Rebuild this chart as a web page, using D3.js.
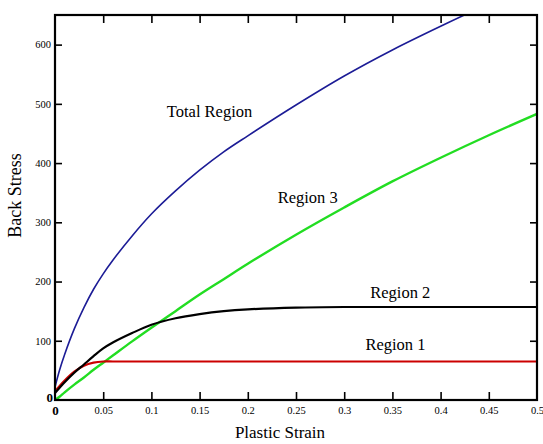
<!DOCTYPE html>
<html>
<head>
<meta charset="utf-8">
<script src="https://cdn.jsdelivr.net/npm/d3@7"></script>
<style>
  body { margin: 0; background: #fff; }
  text { font-family: "Liberation Serif", "DejaVu Serif", serif; fill: #000; }
</style>
</head>
<body>
<script>
var W = 543, H = 444;
var margin = { top: 15, right: 6, bottom: 44, left: 55 };
var w = W - margin.left - margin.right;
var h = H - margin.top - margin.bottom;

// plastic strain samples
var strain = [0, 0.005, 0.01, 0.02, 0.03, 0.04, 0.05, 0.06, 0.08, 0.1, 0.125, 0.15, 0.175, 0.2, 0.25, 0.3, 0.35, 0.4, 0.45, 0.5];
// back stress
var region1 = [15, 24, 33, 48, 58, 63, 65, 65, 65, 65, 65, 65, 65, 65, 65, 65, 65, 65, 65, 65];
var region2 = [12, 21, 30, 46, 60, 74, 87, 97, 113, 127, 138, 145, 150, 153, 156, 157, 157, 157, 157, 157];
var region3 = [0, 6, 13, 26, 38, 51, 63, 75, 99, 122, 150, 178, 204, 230, 279, 325, 369, 409, 447, 483];
var total   = [22, 52, 77, 120, 156, 187, 213, 236, 277, 314, 353, 388, 419, 446, 498, 547, 591, 631, 669, 705];

var xTicks = [0, 0.05, 0.1, 0.15, 0.2, 0.25, 0.3, 0.35, 0.4, 0.45, 0.5];
var yTicks = [0, 100, 200, 300, 400, 500, 600];

var series = [
    { name: "Total Region", values: total, color: "#1c1c96", width: 1.6, lx: 0.116, ly: 477 },
    { name: "Region 3", values: region3, color: "#22dd22", width: 2.4, lx: 0.231, ly: 333 },
    { name: "Region 2", values: region2, color: "#000000", width: 2.2, lx: 0.327, ly: 172 },
    { name: "Region 1", values: region1, color: "#cc0000", width: 2.2, lx: 0.322, ly: 84 }
];

var svg = d3.select("body")
    .append("svg")
    .attr("width", W)
    .attr("height", H)
    .append("g")
    .attr("transform", "translate(" + margin.left + "," + margin.top + ")");

var xScale = d3.scaleLinear().domain([0, 0.5]).range([0, w]);
var yScale = d3.scaleLinear().domain([0, 650]).range([h, 0]);

svg.append("clipPath")
    .attr("id", "plot")
    .append("rect")
    .attr("width", w)
    .attr("height", h);

var line = d3.line()
    .x(function (d, i) { return xScale(strain[i]); })
    .y(function (d) { return yScale(d); })
    .curve(d3.curveCatmullRom.alpha(0.5));

// green and blue first, then red and black on top
var drawOrder = [series[0], series[1], series[3], series[2]];
svg.append("g")
    .attr("clip-path", "url(#plot)")
    .selectAll("path")
    .data(drawOrder)
    .enter()
    .append("path")
    .attr("d", function (d) { return line(d.values); })
    .attr("fill", "none")
    .attr("stroke", function (d) { return d.color; })
    .attr("stroke-width", function (d) { return d.width; });

// axes, ticks pointing inward
var fmt = function (d) { return String(d); };

var xAxis = svg.append("g")
    .attr("transform", "translate(0," + h + ")")
    .call(d3.axisBottom(xScale).tickValues(xTicks).tickFormat(fmt).tickSizeInner(-8).tickSizeOuter(0).tickPadding(7));
var yAxis = svg.append("g")
    .call(d3.axisLeft(yScale).tickValues(yTicks).tickFormat(fmt).tickSizeInner(-7).tickSizeOuter(0).tickPadding(4));
svg.append("g")
    .call(d3.axisTop(xScale).tickValues(xTicks.slice(1, -1)).tickFormat("").tickSizeInner(-8).tickSizeOuter(0));
svg.append("g")
    .attr("transform", "translate(" + w + ",0)")
    .call(d3.axisRight(yScale).tickValues(yTicks.slice(1)).tickFormat("").tickSizeInner(-7).tickSizeOuter(0));

svg.selectAll(".domain").remove();
svg.selectAll(".tick line").attr("stroke", "#000").attr("stroke-width", 1.6);
svg.selectAll(".tick text")
    .style("font-family", "'Liberation Serif', serif")
    .style("font-size", "10.5px")
    .attr("fill", "#000");

// the zero labels are bigger
xAxis.selectAll(".tick text").filter(function (d) { return d === 0; })
    .style("font-size", "13px").style("font-weight", "bold").attr("y", 6).attr("dy", "0.71em");
yAxis.selectAll(".tick text").filter(function (d) { return d === 0; })
    .style("font-size", "13px").style("font-weight", "bold").attr("x", -2).attr("dy", "0.1em");
xAxis.selectAll(".tick").filter(function (d) { return d === 0 || d === 0.5; }).select("line").remove();
yAxis.selectAll(".tick").filter(function (d) { return d === 0; }).select("line").remove();

// frame
svg.append("rect")
    .attr("width", w)
    .attr("height", h)
    .attr("fill", "none")
    .attr("stroke", "#000")
    .attr("stroke-width", 2.2);

// curve labels
svg.selectAll(".lbl")
    .data(series)
    .enter()
    .append("text")
    .attr("class", "lbl")
    .attr("x", function (d) { return xScale(d.lx); })
    .attr("y", function (d) { return yScale(d.ly); })
    .style("font-size", "16.5px")
    .text(function (d) { return d.name; });

// axis titles
svg.append("text")
    .attr("transform", "translate(-34," + (h / 2 - 12) + ") rotate(-90)")
    .attr("text-anchor", "middle")
    .style("font-size", "18px")
    .text("Back Stress");

svg.append("text")
    .attr("x", 225)
    .attr("y", h + 38)
    .attr("text-anchor", "middle")
    .style("font-size", "17px")
    .text("Plastic Strain");
</script>
</body>
</html>
